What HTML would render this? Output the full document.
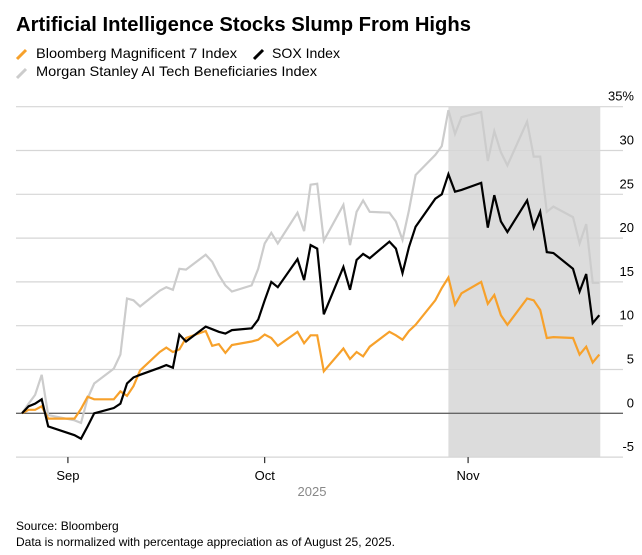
<!DOCTYPE html>
<html><head><meta charset="utf-8"><style>
body{margin:0;background:#fff;}
svg{display:block;font-family:"Liberation Sans",Arial,sans-serif;}
</style></head><body>
<svg id="chart" width="642" height="555" viewBox="0 0 642 555" xmlns="http://www.w3.org/2000/svg">
<text x="16" y="31" font-size="20" font-weight="bold" fill="#000" textLength="455" lengthAdjust="spacingAndGlyphs">Artificial Intelligence Stocks Slump From Highs</text>
<g font-size="14" fill="#000">
<g><line x1="17" y1="59" x2="26" y2="50" stroke="#f7a12b" stroke-width="3"/><text x="36" y="58" textLength="201" lengthAdjust="spacingAndGlyphs">Bloomberg Magnificent 7 Index</text></g>
<g><line x1="254" y1="59" x2="263" y2="50" stroke="#000" stroke-width="3"/><text x="272" y="58" textLength="68" lengthAdjust="spacingAndGlyphs">SOX Index</text></g>
<g><line x1="17" y1="78" x2="26" y2="69" stroke="#cccccc" stroke-width="3"/><text x="36" y="76" textLength="281" lengthAdjust="spacingAndGlyphs">Morgan Stanley AI Tech Beneficiaries Index</text></g>
</g>
<g id="plot"></g>
<text x="312" y="496" font-size="13" fill="#888" text-anchor="middle">2025</text>
<text x="16" y="530" font-size="12" fill="#000">Source: Bloomberg</text>
<text x="16" y="546" font-size="12" fill="#000">Data is normalized with percentage appreciation as of August 25, 2025.</text>
</svg>
<script>
// day offsets from Aug 25, 2025 (trading days)
const days = [0,1,2,3,4,8,9,10,11,14,15,16,17,18,21,22,23,24,25,28,29,30,31,32,35,36,37,38,39,42,43,44,45,46,49,50,51,52,53,56,57,58,59,60,63,64,65,66,67,70,71,72,73,74,77,78,79,80,81,84,85,86,87,88];
const sox = [0,0.8,1.1,1.6,-1.5,-2.5,-2.9,-1.5,0,0.6,1.1,3.4,4.1,4.4,5.2,5.5,5.2,9.0,8.2,9.9,9.6,9.3,9.1,9.5,9.7,10.7,12.9,15.0,14.4,17.6,15.2,19.2,18.8,11.3,16.7,14.1,17.5,18.2,17.7,19.6,18.8,16.0,19.0,21.3,24.5,25.0,27.3,25.3,25.5,26.3,21.2,24.9,21.9,20.7,24.3,21.2,23.0,18.4,18.3,16.5,13.9,15.9,10.3,11.2];
const mag7 = [0,0.4,0.4,0.8,-0.6,-0.6,0.5,1.9,1.6,1.6,2.5,2.0,3.1,4.9,7.0,7.5,7.0,7.3,8.6,9.4,7.7,7.9,6.9,7.8,8.2,8.4,9.0,8.6,7.7,9.3,8.0,8.9,8.9,4.8,7.4,6.2,7.0,6.5,7.6,9.3,8.9,8.4,9.4,10.1,12.9,14.3,15.5,12.4,13.7,15.0,12.5,13.5,11.2,10.1,13.1,12.9,11.8,8.6,8.7,8.6,6.7,7.6,5.8,6.7];
const msai = [0,1.1,2.1,4.4,-0.2,-0.8,-1.1,1.7,3.4,5.1,6.7,13.1,12.9,12.2,14.0,14.4,14.1,16.5,16.4,18.1,17.3,15.8,14.6,13.9,14.6,16.5,19.4,20.6,19.4,22.9,20.8,26.1,26.2,19.7,23.8,19.2,23.0,24.3,23.0,22.9,21.9,19.8,23.2,27.2,29.5,30.5,34.6,31.9,33.8,34.4,28.8,32.2,29.8,28.3,33.3,29.3,29.3,23.0,23.6,22.4,19.4,21.6,14.9,14.9];
const yTicks = [-5,0,5,10,15,20,25,30,35];
const yTickLabels = ["-5","0","5","10","15","20","25","30","35%"];
const monthDays = [7,37,68];
const monthLabels = ["Sep","Oct","Nov"];
const shadeDays = [65,88];

const NS="http://www.w3.org/2000/svg";
const plot=document.getElementById('plot');
const xS=d=>22+6.56*d;
const yS=v=>413.3-8.76*v;
function mk(tag,attrs){const e=document.createElementNS(NS,tag);for(const k in attrs)e.setAttribute(k,attrs[k]);plot.appendChild(e);return e;}

const sh=mk('rect',{x:xS(shadeDays[0]),y:yS(35),width:xS(shadeDays[1])-xS(shadeDays[0])+1,height:yS(-5)-yS(35),fill:'#dcdcdc'});



yTicks.forEach((t,i)=>{
  const l=mk('line',{x1:16,x2:623,y1:yS(t),y2:yS(t),stroke:t===0?'#666':'#d6d6d6','stroke-width':t===0?1.3:1.2});
  
  
  const tx=mk('text',{x:634,y:yS(t)-6,'font-size':13,'text-anchor':'end',fill:'#000'});
  tx.textContent=yTickLabels[i];
  
  
});
monthDays.forEach((d,i)=>{
  const l=mk('line',{x1:xS(d),x2:xS(d),y1:yS(-5),y2:yS(-5)+6,stroke:'#000','stroke-width':1});
  
  
  const tx=mk('text',{x:xS(d),y:480,'font-size':13,'text-anchor':'middle',fill:'#000'});
  tx.textContent=monthLabels[i];
  
  
});
function line(vals,color,name){
  const p=mk('polyline',{points:vals.map((v,i)=>xS(days[i]).toFixed(1)+','+yS(v).toFixed(1)).join(' '),fill:'none',stroke:color,'stroke-width':2.2,'stroke-linejoin':'miter'});
  
  
}
line(msai,'#cccccc','ms-ai-line');
line(mag7,'#f7a12b','mag7-line');
line(sox,'#000000','sox-line');
</script>
</body></html>
